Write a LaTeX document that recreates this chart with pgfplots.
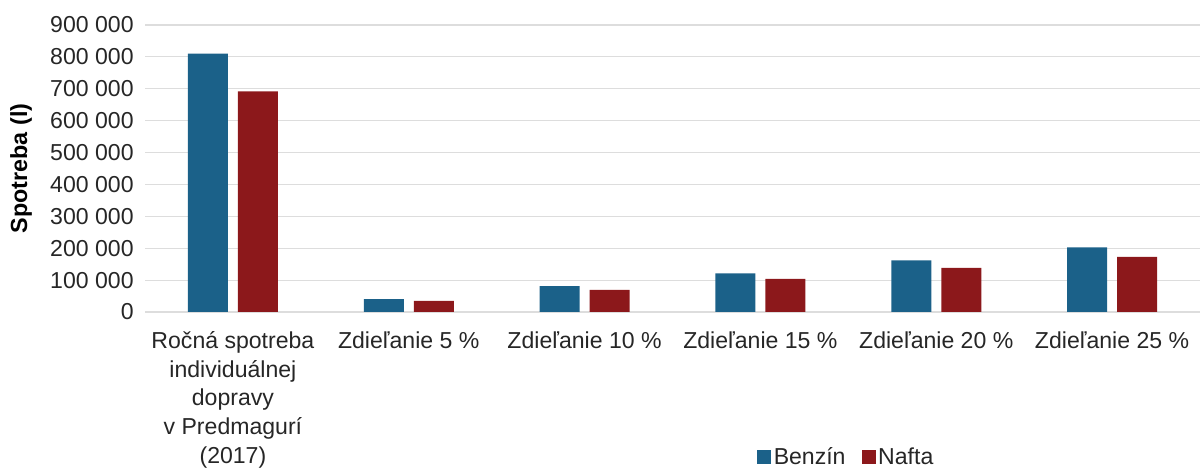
\documentclass[border=0pt]{standalone}
\usepackage{fontspec}
\setmainfont{Liberation Sans}
\usepackage{pgfplots}
\pgfplotsset{compat=1.18}
\definecolor{benzin}{HTML}{1B6189}
\definecolor{nafta}{HTML}{8C181B}
\definecolor{gridc}{HTML}{DDDDDD}

\begin{document}
\begin{tikzpicture}
\useasboundingbox (0,0) rectangle (900pt,352.5pt);
\begin{axis}[
    at={(108.75pt,118.5pt)}, anchor=south west,
    scale only axis,
    width=791.25pt, height=215.25pt,
    ybar=7.5pt, bar width=30pt,
    xmin=-0.5, xmax=5.5,
    ymin=0, ymax=900000,
    ytick={0,100000,200000,300000,400000,500000,600000,700000,800000,900000},
    yticklabels={0,100 000,200 000,300 000,400 000,500 000,600 000,700 000,800 000,900 000},
    scaled y ticks=false,
    xtick={0,...,5},
    xticklabels={{Ročná spotreba\\individuálnej\\dopravy\\v Predmagurí\\(2017)},
        {Zdieľanie 5 \%},{Zdieľanie 10 \%},{Zdieľanie 15 \%},{Zdieľanie 20 \%},{Zdieľanie 25 \%}},
    tick label style={font=\fontsize{17.3}{21.5}\selectfont, text=black!85},
    xticklabel style={align=center, anchor=north, yshift=-11pt},
    yticklabel style={xshift=-5pt},
    major tick length=0pt,
    axis line style={draw=none},
    ymajorgrids,
    grid style={gridc, line width=0.8pt},
    ylabel={\bfseries Spotreba (l)},
    every axis y label/.style={at={(axis description cs:0,0.5)}, xshift=-93pt, rotate=90, anchor=center, font=\fontsize{17.5}{20}\selectfont},
    legend columns=2,
    legend style={at={(axis description cs:0.665,-0.505)}, anchor=center, draw=none,
        font=\fontsize{17.3}{20}\selectfont, text=black!85,
        /tikz/every even column/.append style={column sep=10pt}},
    legend image code/.code={\fill[#1] (0pt,-5.25pt) rectangle (10.5pt,5.25pt);},
]
\addplot[fill=benzin, draw=none] coordinates {
    (0,810000) (1,40500) (2,81000) (3,121500) (4,162000) (5,202500)
};
\addplot[fill=nafta, draw=none] coordinates {
    (0,692000) (1,34600) (2,69200) (3,103800) (4,138400) (5,173000)
};
\legend{Benzín, Nafta}
\end{axis}
\end{tikzpicture}
\end{document}
